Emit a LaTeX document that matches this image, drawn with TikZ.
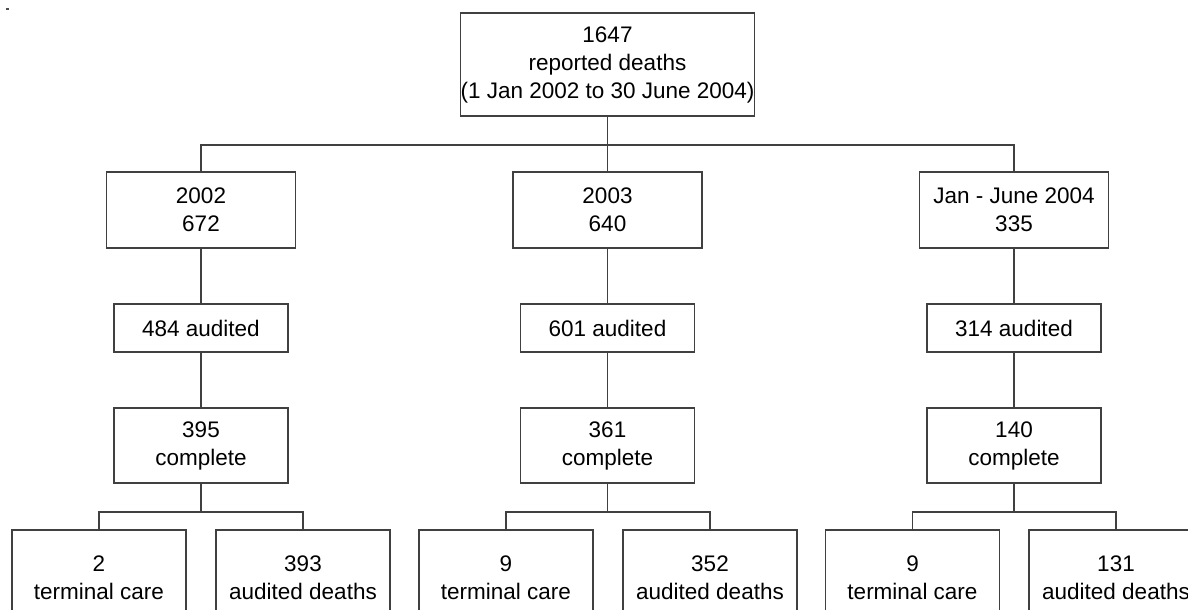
\documentclass[tikz,border=0pt]{standalone}
\usepackage{fontspec}
\setmainfont{Liberation Sans}
\begin{document}
\begin{tikzpicture}[x=1pt,y=-1pt,
  box/.style={draw=black!75,line width=1.3pt,fill=white,align=center,inner sep=0pt,
    font=\fontsize{22.5}{28}\selectfont},
  topbox/.style={box,minimum width=275pt,minimum height=103pt},
  yearbox/.style={box,minimum width=189pt,minimum height=76pt},
  audbox/.style={box,minimum width=174pt,minimum height=48pt},
  compbox/.style={box,minimum width=174pt,minimum height=75pt},
  leafbox/.style={box,minimum width=174pt,minimum height=95pt},
  conn/.style={draw=black!75,line width=1.3pt}]
\useasboundingbox (0,0) rectangle (1188,610);
\clip (0,0) rectangle (1188,610);
\fill[black!70] (6,8) rectangle (9,10);
\node[topbox] (top) at (607.5,64.5) {1647\\reported deaths\\(1 Jan 2002 to 30 June 2004)};
\node[yearbox] (y1) at (201,210) {2002\\672};
\node[yearbox] (y2) at (607.5,210) {2003\\640};
\node[yearbox] (y3) at (1014,210) {Jan - June 2004\\335};
\node[audbox] (a1) at (201,328) {484 audited};
\node[audbox] (a2) at (607.5,328) {601 audited};
\node[audbox] (a3) at (1014,328) {314 audited};
\node[compbox] (c1) at (201,445.5) {395\\complete};
\node[compbox] (c2) at (607.5,445.5) {361\\complete};
\node[compbox] (c3) at (1014,445.5) {140\\complete};
\node[leafbox] (t1) at (99,577.5) {2\\terminal care};
\node[leafbox] (d1) at (303,577.5) {393\\audited deaths};
\node[leafbox] (t2) at (506,577.5) {9\\terminal care};
\node[leafbox] (d2) at (710,577.5) {352\\audited deaths};
\node[leafbox] (t3) at (912.5,577.5) {9\\terminal care};
\node[leafbox] (d3) at (1116,577.5) {131\\audited deaths};
\coordinate (j0) at (607.5,145);
\coordinate (k1) at (201,512);
\coordinate (k2) at (607.5,512);
\coordinate (k3) at (1014,512);
\draw[conn] (top.south) -- (j0);
\draw[conn] (y1.north) |- (j0) -| (y3.north);
\draw[conn] (j0) -- (y2.north);
\foreach \i in {1,2,3}{
  \draw[conn] (y\i.south) -- (a\i.north);
  \draw[conn] (a\i.south) -- (c\i.north);
  \draw[conn] (c\i.south) -- (k\i);
  \draw[conn] (t\i.north) |- (k\i) -| (d\i.north);
}
\end{tikzpicture}
\end{document}
